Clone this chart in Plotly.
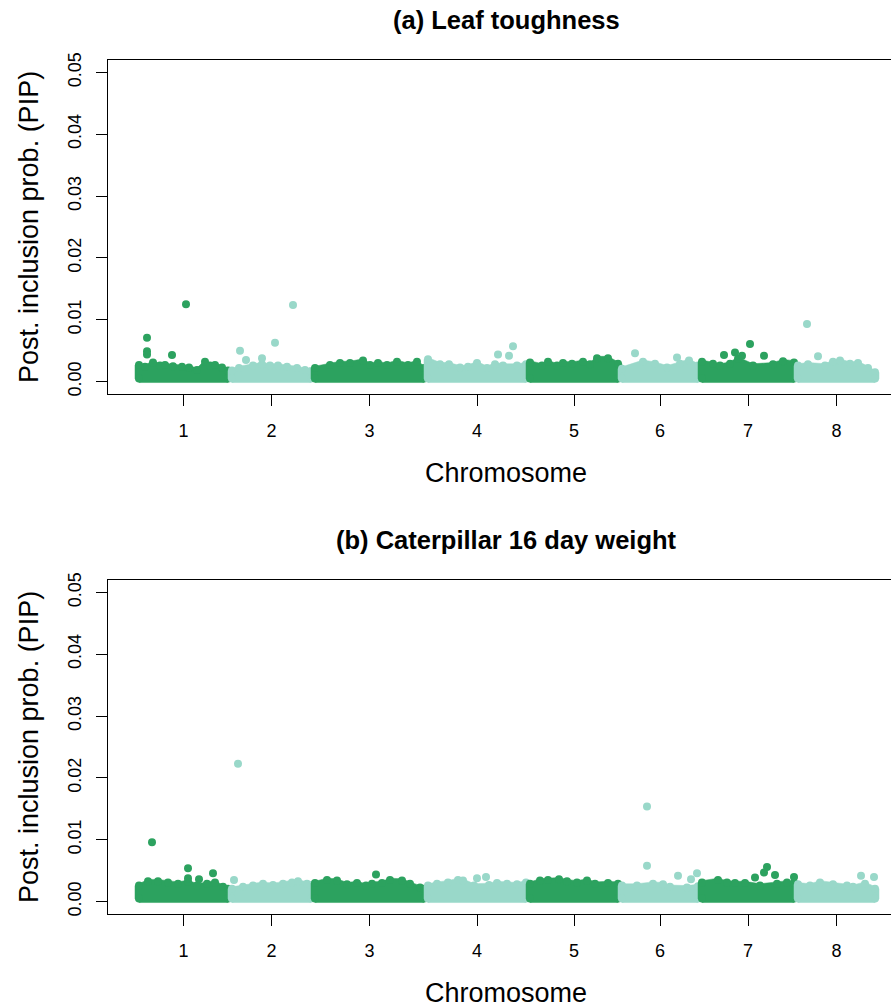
import plotly.graph_objects as go

# ---------------- data ----------------
CHROMS = [1, 2, 3, 4, 5, 6, 7, 8]
CHROM_START = [0, 93, 176, 289, 391, 483, 563, 659]   # cumulative position
CHROM_END = [89, 172, 285, 387, 479, 559, 655, 736]
CHROM_COLORS = ["#2ca25f", "#99d8c9"] * 4
PIP_FLOOR = 0.0005
Y_TICKS = [0.0, 0.01, 0.02, 0.03, 0.04, 0.05]
Y_TICK_LABELS = ["0.00", "0.01", "0.02", "0.03", "0.04", "0.05"]
TITLES = ["(a) Leaf toughness", "(b) Caterpillar 16 day weight"]

# (a) upper envelope of the dense band, per chromosome
A_BAND_POS = [
    [0, 6, 14, 21, 26, 34, 43, 50, 58, 66, 71, 76, 83, 89],
    [93, 100, 114, 123, 131, 139, 148, 158, 166, 172],
    [176, 191, 201, 211, 224, 231, 239, 248, 258, 269, 278, 285],
    [289, 301, 310, 321, 329, 338, 348, 356, 364, 378, 387],
    [391, 403, 409, 418, 424, 433, 444, 451, 458, 469, 479],
    [483, 504, 516, 528, 541, 550, 559],
    [563, 574, 581, 591, 599, 614, 634, 644, 655],
    [659, 669, 686, 694, 701, 711, 719, 729, 736],
]
A_BAND_PIP = [
    [0.0027, 0.0024, 0.0031, 0.0026, 0.0027, 0.0025, 0.0024, 0.0023, 0.0019, 0.0032, 0.0026, 0.0027, 0.0023, 0.0018],
    [0.0018, 0.0022, 0.0026, 0.0028, 0.0026, 0.0026, 0.0024, 0.0022, 0.0019, 0.0017],
    [0.0022, 0.0027, 0.0030, 0.0030, 0.0034, 0.0027, 0.0030, 0.0027, 0.0032, 0.0027, 0.0032, 0.0022],
    [0.0036, 0.0028, 0.0028, 0.0023, 0.0024, 0.0030, 0.0022, 0.0028, 0.0026, 0.0026, 0.0028],
    [0.0031, 0.0026, 0.0032, 0.0026, 0.0030, 0.0029, 0.0032, 0.0028, 0.0038, 0.0038, 0.0029],
    [0.0021, 0.0032, 0.0029, 0.0023, 0.0029, 0.0034, 0.0026],
    [0.0032, 0.0029, 0.0026, 0.0029, 0.0037, 0.0026, 0.0028, 0.0033, 0.0031],
    [0.0026, 0.0028, 0.0026, 0.0032, 0.0034, 0.0029, 0.0030, 0.0022, 0.0015],
]
# (a) stand-out SNPs
A_PEAK_CHR = [1, 1, 1, 1, 1, 2, 2, 2, 2, 2, 4, 4, 4, 6, 6, 7, 7, 7, 7, 7, 8, 8]
A_PEAK_POS = [8, 8, 8, 33, 47, 101, 107, 123, 136, 154, 359, 370, 374, 496, 538,
              585, 596, 603, 611, 625, 668, 679]
A_PEAK_PIP = [0.0071, 0.0049, 0.0044, 0.0043, 0.0125, 0.0050, 0.0035, 0.0038, 0.0063, 0.0124,
              0.0044, 0.0042, 0.0057, 0.0046, 0.0039, 0.0043, 0.0047, 0.0042, 0.0061, 0.0042,
              0.0093, 0.0041]

# (b) upper envelope of the dense band, per chromosome
B_BAND_POS = [
    [0, 9, 19, 29, 39, 49, 58, 68, 76, 84, 89],
    [93, 104, 114, 124, 134, 144, 153, 159, 168, 172],
    [176, 188, 198, 208, 218, 227, 233, 243, 251, 263, 271, 281, 285],
    [289, 298, 309, 319, 324, 335, 350, 358, 368, 378, 387],
    [391, 401, 409, 420, 428, 438, 448, 456, 469, 479],
    [483, 498, 514, 524, 531, 548, 559],
    [563, 579, 588, 596, 606, 621, 638, 648, 655],
    [659, 671, 681, 694, 708, 714, 726, 736],
]
B_BAND_PIP = [
    [0.0026, 0.0033, 0.0033, 0.0031, 0.0029, 0.0032, 0.0026, 0.0029, 0.0031, 0.0024, 0.0021],
    [0.0021, 0.0024, 0.0026, 0.0029, 0.0027, 0.0029, 0.0031, 0.0033, 0.0029, 0.0027],
    [0.0030, 0.0035, 0.0034, 0.0028, 0.0030, 0.0026, 0.0029, 0.0030, 0.0035, 0.0034, 0.0029, 0.0023, 0.0021],
    [0.0026, 0.0029, 0.0031, 0.0035, 0.0034, 0.0026, 0.0027, 0.0030, 0.0029, 0.0028, 0.0031],
    [0.0029, 0.0034, 0.0035, 0.0036, 0.0033, 0.0031, 0.0034, 0.0029, 0.0030, 0.0029],
    [0.0026, 0.0026, 0.0029, 0.0028, 0.0024, 0.0023, 0.0025],
    [0.0031, 0.0035, 0.0031, 0.0030, 0.0030, 0.0026, 0.0029, 0.0031, 0.0030],
    [0.0028, 0.0026, 0.0031, 0.0028, 0.0026, 0.0024, 0.0029, 0.0021],
]
# (b) stand-out SNPs
B_PEAK_CHR = [1, 1, 1, 1, 1, 2, 2, 3, 4, 4, 6, 6, 6, 6, 6, 7, 7, 7, 7, 7, 8, 8]
B_PEAK_POS = [13, 49, 49, 60, 74, 95, 99, 237, 338, 347, 508, 508, 539, 552, 558,
              616, 625, 628, 636, 655, 722, 735]
B_PEAK_PIP = [0.0096, 0.0054, 0.0038, 0.0036, 0.0046, 0.0035, 0.0223, 0.0044, 0.0038, 0.0040,
              0.0154, 0.0058, 0.0042, 0.0036, 0.0046, 0.0039, 0.0047, 0.0056, 0.0043, 0.0040,
              0.0042, 0.0040]

# ---------------- layout geometry (px) ----------------
W, H = 891, 1007
LEFT = 108
PANELS_PX = [(60, 394), (580, 914)]   # top, bottom of each plot box
X_PX0 = 139                           # pixel of genome position 0
MARK = 8
FONT = "Liberation Sans, Arial, Helvetica, sans-serif"
Y_RANGE = [-0.002, 0.052]
X_RANGE = [LEFT - X_PX0, W - X_PX0]

# marker radius expressed in data units (x: 1 unit = 1 px here)
R_X = (MARK / 2) * (X_RANGE[1] - X_RANGE[0]) / (W - LEFT)
R_Y = (MARK / 2) * (Y_RANGE[1] - Y_RANGE[0]) / (PANELS_PX[0][1] - PANELS_PX[0][0])


def py(px):
    return 1 - px / H


def pxf(px):
    return (px - LEFT) / (W - LEFT)


fig = go.Figure()
panels = [
    (A_BAND_POS, A_BAND_PIP, A_PEAK_CHR, A_PEAK_POS, A_PEAK_PIP),
    (B_BAND_POS, B_BAND_PIP, B_PEAK_CHR, B_PEAK_POS, B_PEAK_PIP),
]
for k, (bpos, bpip, pchr, ppos, ppip) in enumerate(panels):
    xa = "x" if k == 0 else "x2"
    ya = "y" if k == 0 else "y2"
    for i, c in enumerate(CHROMS):
        col = CHROM_COLORS[i]
        bx, by = bpos[i], bpip[i]
        # outline of the dense cloud of points (centres padded by the dot radius)
        xs = [bx[0] - R_X, bx[0] - R_X] + list(bx) + [bx[-1] + R_X, bx[-1] + R_X, bx[-1], bx[0], bx[0] - R_X]
        ys = ([PIP_FLOOR, by[0]] + [v + 0.45 * R_Y for v in by] +
              [by[-1], PIP_FLOOR, PIP_FLOOR - R_Y, PIP_FLOOR - R_Y, PIP_FLOOR])
        fig.add_trace(go.Scatter(
            x=xs, y=ys, mode="lines", fill="toself", fillcolor=col,
            line=dict(color=col, width=0.5),
            xaxis=xa, yaxis=ya, hoverinfo="skip", showlegend=False))
        fig.add_trace(go.Scatter(
            x=list(bx) + [bx[0], bx[-1]], y=list(by) + [PIP_FLOOR, PIP_FLOOR],
            mode="markers",
            marker=dict(color=col, size=MARK, line=dict(width=0)),
            xaxis=xa, yaxis=ya, showlegend=False))
        px_ = [p for ch, p in zip(pchr, ppos) if ch == c]
        py_ = [v for ch, v in zip(pchr, ppip) if ch == c]
        if px_:
            fig.add_trace(go.Scatter(
                x=px_, y=py_, mode="markers",
                marker=dict(color=col, size=MARK, line=dict(width=0)),
                xaxis=xa, yaxis=ya, showlegend=False))

tickpos = [(s + e) / 2 for s, e in zip(CHROM_START, CHROM_END)]

axis_common = dict(showgrid=False, zeroline=False, showline=True, linecolor="black",
                   linewidth=1, ticks="outside", ticklen=11, tickwidth=1,
                   tickcolor="black", automargin=False,
                   tickfont=dict(family=FONT, size=18, color="black"))

layout = dict(width=W, height=H, margin=dict(l=LEFT, r=0, t=0, b=0, pad=0, autoexpand=False),
              paper_bgcolor="white", plot_bgcolor="white", showlegend=False,
              font=dict(family=FONT, color="black"))
annotations = []
for k, (top, bot) in enumerate(PANELS_PX):
    sx = "" if k == 0 else "2"
    layout["xaxis" + sx] = dict(axis_common, domain=[0, 1], range=X_RANGE,
                                anchor="y" + sx, tickvals=tickpos,
                                ticktext=[str(c) for c in CHROMS], mirror=True,
                                ticklabelstandoff=9)
    layout["yaxis" + sx] = dict(axis_common, domain=[py(bot), py(top)],
                                range=Y_RANGE, anchor="x" + sx,
                                tickvals=Y_TICKS, ticktext=Y_TICK_LABELS,
                                tickangle=-90, mirror=False, ticklabelstandoff=8)
    annotations.append(dict(text="<b>" + TITLES[k] + "</b>", x=pxf(506), y=py(top - 40),
                            xref="paper", yref="paper", showarrow=False,
                            xanchor="center", yanchor="middle",
                            font=dict(family=FONT, size=25.5, color="black")))
    annotations.append(dict(text="Chromosome", x=pxf(506), y=py(bot + 79),
                            xref="paper", yref="paper", showarrow=False,
                            xanchor="center", yanchor="middle",
                            font=dict(family=FONT, size=27, color="black")))
    annotations.append(dict(text="Post. inclusion prob. (PIP)", x=pxf(29),
                            y=py((top + bot) / 2), xref="paper", yref="paper",
                            showarrow=False, textangle=-90,
                            xanchor="center", yanchor="middle",
                            font=dict(family=FONT, size=27, color="black")))
layout["annotations"] = annotations
fig.update_layout(**layout)
fig.write_html("out.html")
